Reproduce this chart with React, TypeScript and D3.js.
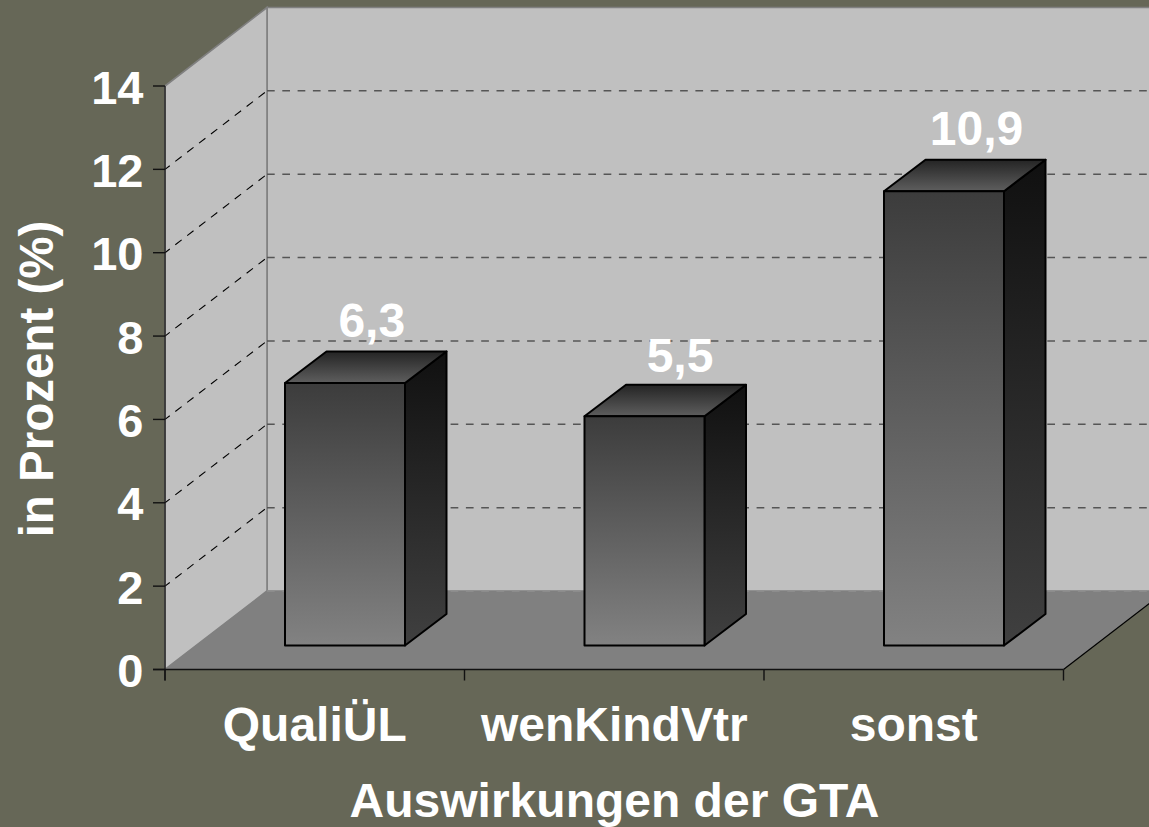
import React from "react";
import * as d3 from "d3";

const categories = ["QualiÜL", "wenKindVtr", "sonst"];
const values = [6.3, 5.5, 10.9];
const valueLabels = ["6,3", "5,5", "10,9"];
const yTicks = [0, 2, 4, 6, 8, 10, 12, 14];
const yTitle = "in Prozent (%)";
const xTitle = "Auswirkungen der GTA";

const W = 1149;
const H = 827;
const BG = "#666757";
const FONT = "'Liberation Sans', Arial, sans-serif";

const y = d3.scaleLinear().domain([0, 14]).range([669.5, 86]);
const x = d3.scaleBand<string>().domain(categories).range([165, 1063.5]);
const depthX = 102;
const depthY = -78.5;
const barDX = 41.5;
const barDY = -31.5;
const barBase = 645.5;
const barW = 120;
const barInset = 120;
const labelShift = [26.8, 35.5, 32.5];
const labelLift = [45.5, 44.5, 46];

const poly = (pts: [number, number][]) => pts.map((p) => p.join(",")).join(" ");

export default function App() {
  const band = x.bandwidth();
  const xTickVals = [...categories.map((c) => x(c) as number), 1063.5];
  const x0 = 165, x1 = 1063.5, yb = y(0), yt = y(14);
  const fs = 48;
  return (
    <svg width={W} height={H} viewBox={`0 0 ${W} ${H}`} style={{ position: "absolute", left: 0, top: 0, display: "block" }} fontFamily={FONT}>
      <defs>
        <linearGradient id="front" x1="0" y1="0" x2="0" y2="1">
          <stop offset="0" stopColor="#3c3c3c" />
          <stop offset="1" stopColor="#828282" />
        </linearGradient>
        <linearGradient id="side" x1="0" y1="0" x2="0" y2="1">
          <stop offset="0" stopColor="#101010" />
          <stop offset="1" stopColor="#404040" />
        </linearGradient>
        <linearGradient id="top" x1="0" y1="0" x2="0" y2="1">
          <stop offset="0" stopColor="#242424" />
          <stop offset="1" stopColor="#5e5e5e" />
        </linearGradient>
      </defs>
      <rect width={W} height={H} fill={BG} />
      <polygon points={poly([[x0 + depthX, yt + depthY], [x1 + depthX, yt + depthY], [x1 + depthX, yb + depthY], [x0 + depthX, yb + depthY]])} fill="#c0c0c0" stroke="#808080" strokeWidth={1.6} />
      <polygon points={poly([[x0, yb], [x0, yt], [x0 + depthX, yt + depthY], [x0 + depthX, yb + depthY]])} fill="#c0c0c0" stroke="#808080" strokeWidth={1.6} />
      <polygon points={poly([[x0, yb], [x1, yb], [x1 + depthX, yb + depthY], [x0 + depthX, yb + depthY]])} fill="#808080" />
      <line x1={x1} y1={yb} x2={x1 + depthX} y2={yb + depthY} stroke="#000" strokeWidth={1.2} />
      {yTicks.map((t) => (
        <g key={t}>
          {t > 0 && t < 14 && <line x1={x0} y1={y(t)} x2={x0 + depthX} y2={y(t) + depthY} stroke="#000" strokeWidth={1.1} strokeDasharray="8 7" strokeDashoffset={2} />}
          {t < 14 && <line x1={x0 + depthX} y1={y(t) + depthY} x2={W} y2={y(t) + depthY} stroke={t === 0 ? "#909090" : "#555"} strokeWidth={1.5} strokeDasharray="7.7 7.6" />}
        </g>
      ))}
      {categories.map((c, i) => {
        const left = (x(c) as number) + barInset;
        const top = barBase - (y(0) - y(values[i]));
        const right = left + barW;
        return (
          <g key={c} stroke="#000" strokeWidth={2} strokeLinejoin="round">
            <polygon points={poly([[right, barBase], [right + barDX, barBase + barDY], [right + barDX, top + barDY], [right, top]])} fill="url(#side)" />
            <polygon points={poly([[left, top], [right, top], [right + barDX, top + barDY], [left + barDX, top + barDY]])} fill="url(#top)" />
            <rect x={left} y={top} width={barW} height={barBase - top} fill="url(#front)" />
          </g>
        );
      })}
      {categories.map((c, i) => {
        const left = (x(c) as number) + barInset;
        const top = barBase - (y(0) - y(values[i]));
        return (
          <text key={c} x={left + barW / 2 + labelShift[i]} y={top - labelLift[i]} textAnchor="middle" fontSize={fs} fontWeight={700} fill="#fff">
            {valueLabels[i]}
          </text>
        );
      })}
      <line x1={x0} y1={yt} x2={x0} y2={yb + 11} stroke="#222" strokeWidth={1.4} />
      <line x1={x0 - 12} y1={yb} x2={x1} y2={yb} stroke="#111" strokeWidth={1.4} />
      {yTicks.map((t) => (
        <g key={t}>
          <line x1={x0 - 12} y1={y(t)} x2={x0} y2={y(t)} stroke="#111" strokeWidth={1.4} />
          <text x={143.5} y={y(t) + 17.5} textAnchor="end" fontSize={47} fontWeight={700} fill="#fff">{t}</text>
        </g>
      ))}
      {xTickVals.map((v) => (
        <line key={v} x1={v} y1={yb} x2={v} y2={yb + 11} stroke="#111" strokeWidth={1.4} />
      ))}
      {categories.map((c) => (
        <text key={c} x={(x(c) as number) + band / 2} y={741} textAnchor="middle" fontSize={fs} fontWeight={700} fill="#fff">{c}</text>
      ))}
      <text x={614.5} y={816.7} textAnchor="middle" fontSize={fs} fontWeight={700} fill="#fff">{xTitle}</text>
      <text transform="translate(53,379) rotate(-90)" textAnchor="middle" fontSize={47.5} fontWeight={700} fill="#fff">{yTitle}</text>
    </svg>
  );
}
